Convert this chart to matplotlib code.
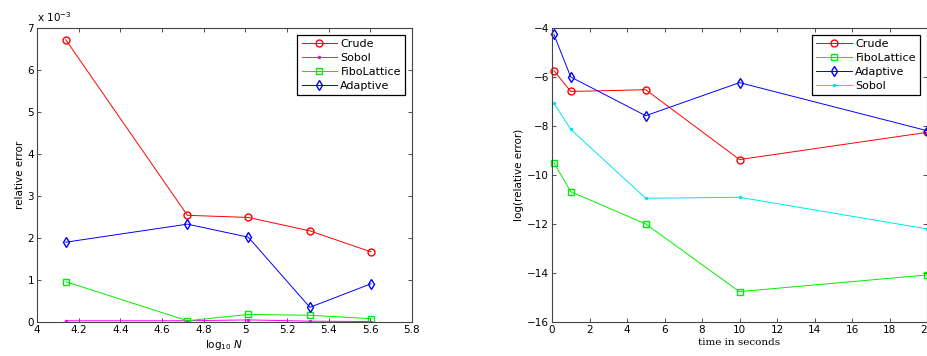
import matplotlib.pyplot as plt

# left panel: relative error vs log10 N (values in units of 1e-3)
log_n = [4.138, 4.722, 5.014, 5.310, 5.603]
crude_err = [6.72, 2.54, 2.49, 2.17, 1.67]
sobol_err = [0.03, 0.03, 0.05, 0.02, 0.01]
fibo_err = [0.96, 0.03, 0.18, 0.16, 0.08]
adaptive_err = [1.90, 2.33, 2.02, 0.35, 0.91]

# right panel: log(relative error) vs time
time_s = [0.1, 1, 5, 10, 20]
crude_log = [-5.74, -6.59, -6.52, -9.37, -8.26]
fibo_log = [-9.50, -10.68, -12.0, -14.76, -14.08]
adaptive_log = [-4.26, -6.0, -7.58, -6.23, -8.19]
sobol_log = [-7.07, -8.14, -10.95, -10.91, -12.2]

plt.rcParams['font.family'] = ['DejaVu Sans']
plt.rcParams['font.size'] = 7.5

fig = plt.figure(figsize=(9.28, 3.56), dpi=100)
W, H = 928, 356
ax1 = fig.add_axes([37 / W, 1 - 322 / H, (412 - 37) / W, (322 - 28) / H])
ax2 = fig.add_axes([552 / W, 1 - 322 / H, (927 - 552) / W, (322 - 28) / H])

lw = 0.7
ms = 5

def style(ax):
    ax.tick_params(direction='in', top=True, right=True, length=3, width=0.6,
                   colors='#333333', labelcolor='black', pad=2)
    for s in ax.spines.values():
        s.set_color('#444444')
        s.set_linewidth(0.8)

def legend(ax):
    leg = ax.legend(loc='upper right', fancybox=False, framealpha=1,
                    edgecolor='black', fontsize=8, handlelength=3.2,
                    borderaxespad=0.6, labelspacing=0.35, handletextpad=0.3)
    leg.get_frame().set_linewidth(0.9)

ax1.plot(log_n, crude_err, color='#ff0000', marker='o', mfc='none', ms=ms, lw=lw, label='Crude')
ax1.plot(log_n, sobol_err, color='#ff00ff', marker='.', ms=3, lw=lw, label='Sobol')
ax1.plot(log_n, fibo_err, color='#00ee00', marker='s', mfc='none', ms=ms, lw=lw, label='FiboLattice')
ax1.plot(log_n, adaptive_err, color='#0000ff', marker='d', mfc='none', ms=ms, lw=lw, label='Adaptive')
ax1.set_xlim(4, 5.8)
ax1.set_ylim(0, 7)
ax1.set_xticks([4, 4.2, 4.4, 4.6, 4.8, 5, 5.2, 5.4, 5.6, 5.8])
ax1.set_xticklabels(['4', '4.2', '4.4', '4.6', '4.8', '5', '5.2', '5.4', '5.6', '5.8'])
ax1.set_yticks(range(8))
ax1.set_ylabel('relative error', labelpad=2)
ax1.set_xlabel(r'$\log_{10}\,N$', family='serif', labelpad=2)
ax1.text(0.0, 1.015, r'x 10$^{-3}$', transform=ax1.transAxes, fontsize=7.5, va='bottom')
style(ax1)
legend(ax1)

ax2.plot(time_s, crude_log, color='#ff0000', marker='o', mfc='none', ms=ms, lw=lw, label='Crude', clip_on=False)
ax2.plot(time_s, fibo_log, color='#00ee00', marker='s', mfc='none', ms=ms, lw=lw, label='FiboLattice', clip_on=False)
ax2.plot(time_s, adaptive_log, color='#0000ff', marker='d', mfc='none', ms=ms, lw=lw, label='Adaptive', clip_on=False)
ax2.plot(time_s, sobol_log, color='#00e5ee', marker='.', ms=3, lw=lw, label='Sobol', clip_on=False)
ax2.set_xlim(0, 20)
ax2.set_ylim(-16, -4)
ax2.set_xticks(range(0, 21, 2))
ax2.set_yticks(range(-16, -3, 2))
ax2.set_ylabel('log(relative error)', labelpad=2)
ax2.set_xlabel('time in seconds', family='serif', labelpad=2)
style(ax2)
legend(ax2)

fig.savefig('out.png', dpi=100)
